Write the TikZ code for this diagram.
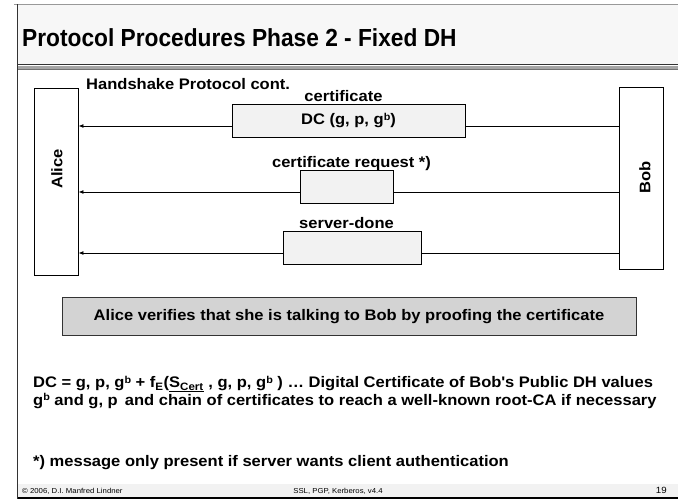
\documentclass[tikz,border=0pt]{standalone}
\usepackage{fontspec}
\setmainfont{Liberation Sans}[FakeStretch=1.08]
\newfontfamily\headingfont{Liberation Sans}[FakeStretch=0.92]
\usetikzlibrary{arrows.meta}

\definecolor{titlefill}{HTML}{F7F7F7}
\definecolor{msgfill}{HTML}{F2F2F2}
\definecolor{notefill}{HTML}{D3D3D3}
\definecolor{frameline}{HTML}{333333}

\tikzset{
  body/.style={font=\fontsize{15.3}{18}\selectfont\bfseries, inner sep=0pt},
  party/.style={draw=black, line width=0.9pt, fill=white, inner sep=0pt},
  partyname/.style={body, rotate=90},
  msgbox/.style={draw=black, line width=0.9pt, fill=msgfill, inner sep=0pt,
                 minimum height=33pt, font=\fontsize{15.3}{18}\selectfont\bfseries},
  msglabel/.style={body, anchor=base},
  msgline/.style={line width=0.9pt, draw=black},
  msgarrow/.style={msgline, -{Latex[length=5pt,width=4pt]}},
  footer/.style={font=\fontsize{7.2}{9}\selectfont, inner sep=0pt, anchor=base},
}
\newcommand{\smallsup}[1]{\raisebox{4.5pt}{\fontsize{10}{10}\selectfont #1}}

\begin{document}
\begin{tikzpicture}[x=1pt, y=-1pt]
\useasboundingbox (0,0) rectangle (678,501);
\fill[white] (0,0) rectangle (678,501);

% title bar
\fill[titlefill] (17,4) rectangle (678,64);
\draw[line width=1.5pt, draw=gray!80] (14,4.5) -- (678,4.5);
\draw[line width=1.2pt, draw=frameline] (17,64.5) -- (678,64.5);
\draw[line width=2.6pt, draw=gray!70] (17,67.3) -- (678,67.3);
\draw[line width=0.8pt, draw=gray!90!black] (17,69.3) -- (678,69.3);
\node[font=\headingfont\fontsize{24.7}{28}\selectfont\bfseries, inner sep=0pt, anchor=base west]
  (title) at (22,46.5) {Protocol Procedures Phase 2 - Fixed DH};

% footer band and slide frame
\fill[msgfill] (17,484) rectangle (678,497.5);
\draw[line width=1.5pt, draw=black] (17,498) -- (678,498);
\draw[line width=1.3pt, draw=frameline] (17.5,4) -- (17.5,498.7);

\node[footer, anchor=base west] (copy) at (22,493) {\textcopyright{} 2006, D.I. Manfred Lindner};
\node[footer] (course) at (338,493) {SSL, PGP, Kerberos, v4.4};
\node[footer, anchor=base east, font=\fontsize{9}{10}\selectfont] (page) at (667,493.5) {19};

% heading of the exchange
\node[body, anchor=base west] (hs) at (86,89) {Handshake Protocol cont.};

% the two parties
\node[party, minimum width=44pt, minimum height=187pt] (alice) at (56,181.5) {};
\node[partyname] (alicename) at (57,169) {Alice};
\node[party, minimum width=44pt, minimum height=182pt] (bob) at (641,178) {};
\node[partyname] (bobname) at (645,177) {Bob};

% messages from Bob to Alice
\node[msgbox, minimum width=233pt] (m1) at (348.5,120.5) {\raisebox{-2pt}{DC (g, p, g\smallsup{b})}};
\node[msglabel] (l1) at (343.5,101.5) {certificate};

\node[msgbox, minimum width=93pt] (m2) at (346.5,186.5) {};
\node[msglabel] (l2) at (351.5,167.5) {certificate request *)};

\node[msgbox, minimum width=138pt] (m3) at (352,247.5) {};
\node[msglabel] (l3) at (346.5,228) {server-done};

\foreach \m in {m1,m2,m3}{
  \draw[msgline] ([yshift=-5.5pt]\m.east) -- ([yshift=-5.5pt]\m.east -| bob.west);
  \draw[msgarrow] ([yshift=-5.5pt]\m.west) -- ([yshift=-5.5pt]\m.west -| alice.east);
}

% verification note
\node[draw=frameline, line width=1pt, fill=notefill, minimum width=574pt, minimum height=38.5pt,
      inner sep=0pt, font=\fontsize{15.3}{18}\selectfont\bfseries] (note) at (349,316.5)
  {Alice verifies that she is talking to Bob by proofing the certificate};

% explanations
\node[body, anchor=base west, align=left, font=\fontsize{15.3}{16}\selectfont\bfseries] (dc) at (33,405)
  {DC = g, p, g\smallsup{b} + f\textsubscript{E}(\underline{S\textsubscript{Cert}} , g, p, g\smallsup{b} ) \dots{} Digital Certificate of Bob\textquotesingle s Public DH values\\
   g\smallsup{b} and g, p\, and chain of certificates to reach a well-known root-CA if necessary};
\node[body, anchor=base west] (star) at (33,466)
  {*) message only present if server wants client authentication};
\end{tikzpicture}
\end{document}
